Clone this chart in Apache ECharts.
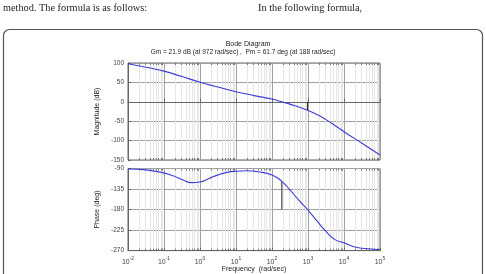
<!DOCTYPE html>
<html>
<head>
<meta charset="utf-8">
<script src="https://cdn.jsdelivr.net/npm/echarts@6/dist/echarts.min.js"></script>
<style>
  html, body { margin: 0; padding: 0; background: #fff; }
  #main { width: 486px; height: 274px; }
</style>
</head>
<body>
<div id="main"></div>
<script>
// magnitude curve (rad/sec, dB)
var magFreq = [0.01, 0.0316, 0.1, 0.316, 1, 3.16, 10, 31.6, 100, 188, 316, 972, 1780, 3160, 5620, 10000, 31600, 100000];
var magDb = [98, 89, 79, 65, 50.5, 38, 26, 16, 7, 0, -6, -21.9, -33, -46, -61, -77, -107, -137];

// phase curve (rad/sec, deg)
var phaseFreq = [0.01, 0.0316, 0.079, 0.178, 0.316, 0.59, 1, 1.78, 3.16, 5.62, 10, 20, 40, 100, 188, 316, 562, 972, 1780, 3160, 5620, 10000, 17800, 31600, 100000];
var phaseDeg = [-91, -93, -98, -106, -114, -121, -119.5, -112, -104, -98.5, -96, -95, -97, -104, -118.3, -137, -160, -180, -205, -228, -246, -253, -261, -265, -268];

// stability margins
var gmFreq = 972, gmDb = -21.9;
var pmFreq = 188, pmDeg = -118.3;

var magTicks = [-150, -100, -50, 0, 50, 100];
var phaseTicks = [-270, -225, -180, -135, -90];

// minor log grid positions (2..9 in each decade)
var minorFreq = [];
for (var n = -2; n < 5; n++) {
    for (var k = 2; k < 10; k++) {
        minorFreq.push([k * Math.pow(10, n)]);
    }
}

function pairs(xs, ys) {
    var out = [];
    for (var i = 0; i < xs.length; i++) out.push([xs[i], ys[i]]);
    return out;
}

// light minor grid lines + small ticks on top/bottom edges
function minorGrid(xi, yMin, yMax) {
    return {
        type: "custom",
        xAxisIndex: xi, yAxisIndex: xi,
        silent: true,
        z: 0,
        clip: true,
        data: minorFreq,
        renderItem: function (params, api) {
            var p1 = api.coord([api.value(0), yMax]);
            var p2 = api.coord([api.value(0), yMin]);
            var x = Math.round(p1[0]) + 0.5;
            return {
                type: "group",
                children: [
                    { type: "line", shape: { x1: x, y1: p1[1], x2: x, y2: p2[1] }, style: { stroke: "#e6e6e6", lineWidth: 1 } },
                    { type: "line", shape: { x1: x, y1: p1[1], x2: x, y2: p1[1] + 2 }, style: { stroke: "#777", lineWidth: 1 } },
                    { type: "line", shape: { x1: x, y1: p2[1], x2: x, y2: p2[1] - 2 }, style: { stroke: "#777", lineWidth: 1 } }
                ]
            };
        }
    };
}

var myChart = echarts.init(document.getElementById("main"));

var labelFont = "Liberation Sans, Arial, sans-serif";

var xAxisBase = {
    type: "log",
    logBase: 10,
    min: 0.01,
    max: 100000,
    splitNumber: 7,
    axisLine: { show: true, lineStyle: { color: "#666", width: 1 } },
    axisTick: { show: true, inside: true, length: 3, lineStyle: { color: "#666" } },
    splitLine: { show: true, lineStyle: { color: "#a0a0a0", width: 1 } }
};

var option = {
    animation: false,
    backgroundColor: "#fff",
    grid: [
        { left: 128, top: 63, width: 252, height: 97, show: true, borderColor: "#666", borderWidth: 1, backgroundColor: "#fff" },
        { left: 128, top: 168.5, width: 252, height: 85.5, show: true, borderColor: "#666", borderWidth: 1, backgroundColor: "#fff" }
    ],
    xAxis: [
        Object.assign({}, xAxisBase, { gridIndex: 0, axisLabel: { show: false } }),
        Object.assign({}, xAxisBase, {
            gridIndex: 1,
            name: "Frequency  (rad/sec)",
            nameLocation: "middle",
            nameGap: 15,
            nameTextStyle: { fontSize: 7, color: "#222", fontFamily: labelFont },
            axisLabel: {
                show: true,
                margin: 6,
                formatter: function (v) {
                    var e = Math.round(Math.log10(v));
                    return "{b|10}{s|" + e + "}";
                },
                rich: {
                    b: { fontSize: 7, color: "#444", fontFamily: labelFont },
                    s: { fontSize: 5, color: "#444", fontFamily: labelFont, verticalAlign: "top", padding: [0, 0, 5, 0] }
                }
            }
        })
    ],
    yAxis: [
        {
            gridIndex: 0,
            type: "value",
            min: magTicks[0],
            max: magTicks[magTicks.length - 1],
            interval: 50,
            name: "Magnitude (dB)",
            nameLocation: "middle",
            nameRotate: 90,
            nameGap: 17,
            nameTextStyle: { fontSize: 7, color: "#222", fontFamily: labelFont },
            axisLine: { show: true, lineStyle: { color: "#666" } },
            axisTick: { show: true, inside: true, length: 3, lineStyle: { color: "#666" } },
            axisLabel: { fontSize: 6.5, color: "#444", margin: 4, fontFamily: labelFont },
            splitLine: { show: true, lineStyle: { color: "#a0a0a0" } }
        },
        {
            gridIndex: 1,
            type: "value",
            min: phaseTicks[0],
            max: phaseTicks[phaseTicks.length - 1],
            interval: 45,
            name: "Phase (deg)",
            nameLocation: "middle",
            nameRotate: 90,
            nameGap: 17,
            nameTextStyle: { fontSize: 7, color: "#222", fontFamily: labelFont },
            axisLine: { show: true, lineStyle: { color: "#666" } },
            axisTick: { show: true, inside: true, length: 3, lineStyle: { color: "#666" } },
            axisLabel: { fontSize: 6.5, color: "#444", margin: 4, fontFamily: labelFont },
            splitLine: { show: true, lineStyle: { color: "#a0a0a0" } }
        }
    ],
    graphic: [
        { type: "text", left: 3, top: 3, style: { text: "method. The formula is as follows:", font: "10.3px 'Liberation Serif', serif", fill: "#222" } },
        { type: "text", left: 258, top: 3, style: { text: "In the following formula,", font: "10.3px 'Liberation Serif', serif", fill: "#222" } },
        { type: "rect", shape: { x: 3.5, y: 29.5, width: 479, height: 270, r: 6 }, style: { fill: "none", stroke: "#555", lineWidth: 1.2 }, silent: true },
        { type: "text", x: 248, y: 41, style: { text: "Bode Diagram", font: "7px 'Liberation Sans', Arial, sans-serif", fill: "#222", textAlign: "center" } },
        { type: "text", x: 243, y: 49, style: { text: "Gm = 21.9 dB (at 972 rad/sec) ,  Pm = 61.7 deg (at 188 rad/sec)", font: "6.5px 'Liberation Sans', Arial, sans-serif", fill: "#222", textAlign: "center" } }
    ],
    series: [
        minorGrid(0, magTicks[0], magTicks[magTicks.length - 1]),
        minorGrid(1, phaseTicks[0], phaseTicks[phaseTicks.length - 1]),
        {
            name: "Magnitude",
            type: "line",
            xAxisIndex: 0, yAxisIndex: 0,
            z: 5,
            smooth: true,
            showSymbol: false,
            lineStyle: { color: "#3c3cd8", width: 1.1 },
            data: pairs(magFreq, magDb)
        },
        {
            name: "Phase",
            type: "line",
            xAxisIndex: 1, yAxisIndex: 1,
            z: 5,
            smooth: true,
            showSymbol: false,
            lineStyle: { color: "#3c3cd8", width: 1.1 },
            data: pairs(phaseFreq, phaseDeg)
        },
        {
            name: "Gm",
            type: "line",
            xAxisIndex: 0, yAxisIndex: 0,
            z: 4,
            showSymbol: false,
            lineStyle: { color: "#222", width: 1 },
            data: [[gmFreq, 0], [gmFreq, gmDb]]
        },
        {
            name: "Pm",
            type: "line",
            xAxisIndex: 1, yAxisIndex: 1,
            z: 4,
            showSymbol: false,
            lineStyle: { color: "#222", width: 1 },
            data: [[pmFreq, -180], [pmFreq, pmDeg]]
        }
    ]
};

myChart.setOption(option);
window.addEventListener("resize", function () {
    myChart.resize();
});
</script>
</body>
</html>
